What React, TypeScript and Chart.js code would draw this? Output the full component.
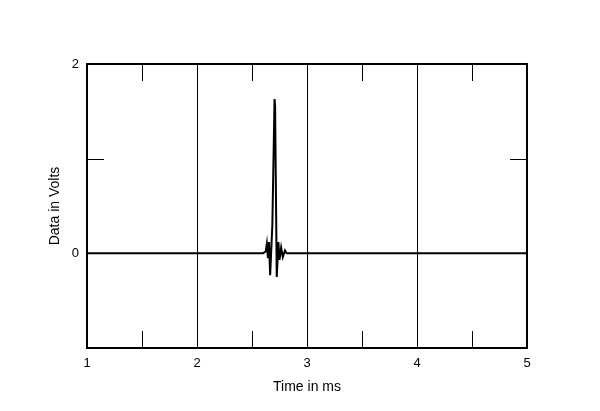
import React, { useEffect, useRef } from "react";
import { Chart, registerables } from "chart.js";

Chart.register(...registerables);

const timeMs = [1.0, 2.6, 2.625, 2.635, 2.645, 2.655, 2.665, 2.685, 2.705, 2.71, 2.725, 2.74, 2.75, 2.765, 2.78, 2.8, 2.815, 5.0];
const volts = [0, 0, 0.02, 0.1, -0.05, 0.12, -0.23, 0.3, 1.63, 1.55, -0.25, 0.12, -0.07, 0.06, -0.04, 0.03, 0, 0];

const xTicks = [1, 2, 3, 4, 5];
const xGridAt = [2, 3, 4];
const xMinorTicks = [1.5, 2.5, 3.5, 4.5];
const yLabeled = [0, 2];
const yMinorTicks = [1];

const FONT = "'Liberation Sans', Arial, sans-serif";

const framePlugin = {
  id: "frame",
  afterDraw(chart: any) {
    const { ctx, chartArea, scales } = chart;
    const { left, right, top, bottom } = chartArea;
    ctx.save();
    ctx.strokeStyle = "#000";
    ctx.lineWidth = 1;
    const len = 17;
    xMinorTicks.forEach((v) => {
      const px = Math.round(scales.x.getPixelForValue(v)) + 0.5;
      ctx.beginPath();
      ctx.moveTo(px, top);
      ctx.lineTo(px, top + len);
      ctx.moveTo(px, bottom);
      ctx.lineTo(px, bottom - len);
      ctx.stroke();
    });
    yMinorTicks.forEach((v) => {
      const py = Math.round(scales.y.getPixelForValue(v)) + 0.5;
      ctx.beginPath();
      ctx.moveTo(left, py);
      ctx.lineTo(left + len, py);
      ctx.moveTo(right, py);
      ctx.lineTo(right - len, py);
      ctx.stroke();
    });
    ctx.lineWidth = 2;
    ctx.strokeRect(left, top, right - left, bottom - top);
    ctx.restore();
  },
};

export default function App() {
  const ref = useRef<HTMLCanvasElement | null>(null);
  useEffect(() => {
    if (!ref.current) return;
    const chart = new Chart(ref.current, {
      type: "line",
      data: {
        datasets: [
          {
            data: timeMs.map((t, i) => ({ x: t, y: volts[i] })),
            borderColor: "#000",
            borderWidth: 2,
            pointRadius: 0,
            tension: 0,
            fill: false,
          },
        ],
      },
      options: {
        responsive: false,
        animation: false,
        layout: { padding: { left: 0, top: 64, right: 73, bottom: 0 } },
        plugins: { legend: { display: false }, tooltip: { enabled: false } },
        scales: {
          x: {
            type: "linear",
            min: 1,
            max: 5,
            afterFit: (s: any) => {
              s.height = 63;
            },
            afterBuildTicks: (s: any) => {
              s.ticks = xTicks.map((v) => ({ value: v }));
            },
            ticks: {
              color: "#000",
              padding: 8,
              font: { family: FONT, size: 13 },
              maxRotation: 0,
            },
            grid: {
              drawTicks: false,
              lineWidth: 1,
              color: (c: any) => (xGridAt.includes(c.tick?.value) ? "#000" : "rgba(0,0,0,0)"),
            },
            border: { display: false },
            title: {
              display: true,
              text: "Time in ms",
              color: "#000",
              font: { family: FONT, size: 14 },
              padding: { top: 0, bottom: 15.6 },
            },
          },
          y: {
            type: "linear",
            min: -1,
            max: 2,
            afterFit: (s: any) => {
              s.width = 87;
            },
            afterBuildTicks: (s: any) => {
              s.ticks = yLabeled.map((v) => ({ value: v }));
            },
            ticks: {
              color: "#000",
              padding: 8,
              font: { family: FONT, size: 13 },
            },
            grid: { display: false, drawTicks: false },
            border: { display: false },
            title: {
              display: true,
              text: "Data in Volts",
              color: "#000",
              font: { family: FONT, size: 14 },
              padding: { top: 47, bottom: 0 },
            },
          },
        },
      },
      plugins: [framePlugin],
    });
    return () => chart.destroy();
  }, []);
  return (
    <div style={{ position: "fixed", left: 0, top: 0, width: 600, height: 411, background: "#fff" }}>
      <canvas ref={ref} width={600} height={411} />
    </div>
  );
}
